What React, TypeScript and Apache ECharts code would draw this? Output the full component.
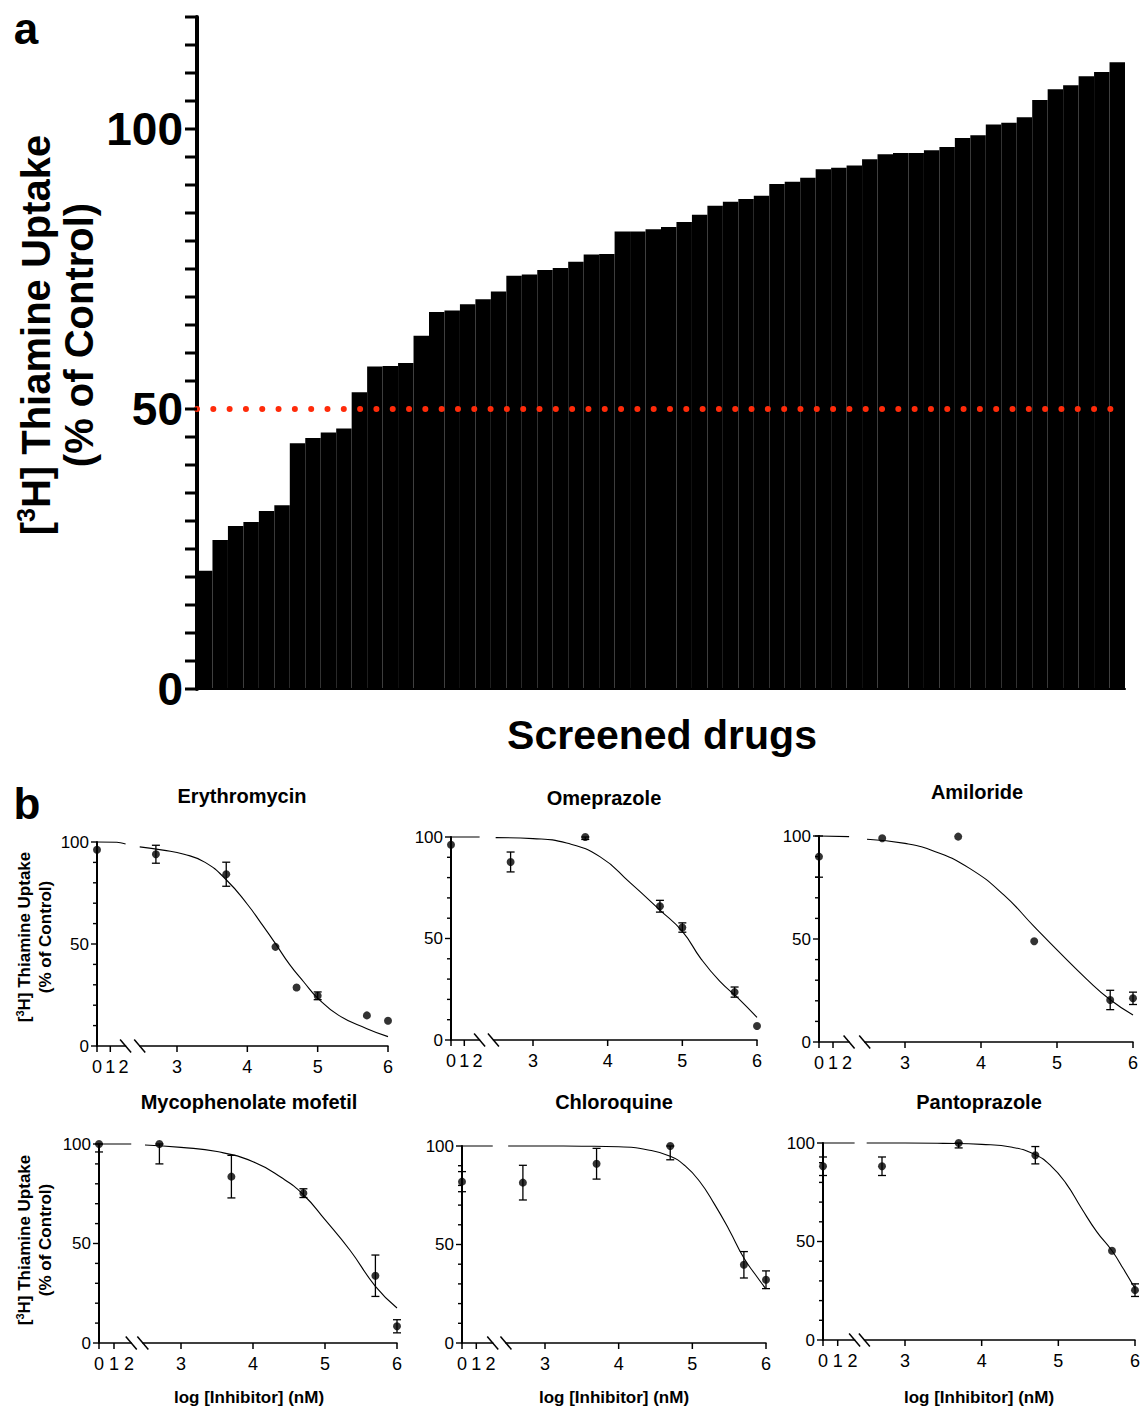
import React, { useEffect, useRef } from "react";
import * as echarts from "echarts";

const FONT = '"Liberation Sans", Arial, Helvetica, sans-serif';
const RED = "#ff2b0a";

// ---------- Panel a ----------
const screenedDrugs = Array.from({ length: 60 }, (_, i) => `Drug ${i + 1}`);
const uptakePercent = [
  21.1, 26.6, 29.1, 29.8, 31.8, 32.8, 43.9, 44.8, 45.8, 46.5,
  53.0, 57.6, 57.7, 58.2, 63.1, 67.3, 67.6, 68.7, 69.6, 71.0,
  73.8, 74.0, 74.8, 75.2, 76.3, 77.6, 77.7, 81.7, 81.7, 82.1,
  82.5, 83.4, 84.7, 86.3, 87.0, 87.5, 88.1, 90.2, 90.6, 91.3,
  92.8, 93.1, 93.5, 94.6, 95.5, 95.7, 95.7, 96.2, 96.8, 98.4,
  98.9, 100.8, 101.1, 102.1, 105.2, 107.1, 107.8, 109.4, 110.2, 111.9,
];
const panelALabels = [0, 50, 100];
const panelATicks = [
  0, 5, 10, 15, 20, 25, 30, 35, 40, 45, 50, 55, 60,
  65, 70, 75, 80, 85, 90, 95, 100, 105, 110, 115, 120,
];
const cutoffLine = 50;

// ---------- Panel b ----------
const leftTicks = [0, 1];
const leftLabels = [0, 1, 2];
const rightTicks = [3, 4, 5, 6];
const yLabelsB = [0, 50, 100];
const yTicksB = [0, 10, 20, 30, 40, 50, 60, 70, 80, 90, 100];

// Erythromycin
const erythroControl = [96.2, 0];
const erythroDose = [2.7, 3.7, 4.4, 4.7, 5.0, 5.7, 6.0];
const erythroUptake = [94.0, 84.2, 48.6, 28.7, 24.6, 15.0, 12.4];
const erythroSem = [4.4, 5.9, 0, 0, 1.9, 0, 0];
const erythroFitLow = [[0, 100], [1.5, 99.9], [2.15, 99.0]];
const erythroFitHigh = [
  [2.47, 97.6], [2.8, 96.0], [3.1, 94.0], [3.4, 90.0], [3.7, 81.5], [4.0, 69.5],
  [4.2, 60.0], [4.4, 50.2], [4.6, 40.0], [4.8, 31.5], [5.0, 23.5], [5.3, 15.0],
  [5.7, 8.5], [6.0, 4.6],
];

// Omeprazole
const omeControl = [96.2, 0];
const omeDose = [2.7, 3.7, 4.7, 5.0, 5.7, 6.0];
const omeUptake = [87.7, 100, 65.9, 55.4, 23.6, 6.9];
const omeSem = [4.9, 1.2, 2.9, 2.3, 2.5, 0];
const omeFitLow = [[0, 100], [2.15, 100]];
const omeFitHigh = [
  [2.5, 99.7], [3.0, 99.2], [3.45, 97.0], [3.9, 90.2], [4.3, 77.5], [4.7, 64.0],
  [5.0, 53.5], [5.25, 40.0], [5.5, 29.0], [5.75, 20.5], [6.0, 11.1],
];

// Amiloride
const amiControl = [90.0, 10.0];
const amiDose = [2.7, 3.7, 4.7, 5.7, 6.0];
const amiUptake = [98.9, 99.7, 48.9, 20.4, 21.2];
const amiSem = [0, 0, 0, 4.7, 3.0];
const amiFitLow = [[0, 100], [2.15, 99.7]];
const amiFitHigh = [
  [2.5, 98.4], [3.0, 96.4], [3.4, 92.4], [3.85, 84.3], [4.3, 71.4], [4.7, 56.0],
  [5.0, 44.7], [5.4, 30.2], [5.7, 20.5], [6.0, 13.1],
];

// Mycophenolate mofetil
const mycoControl = [100, 4.0];
const mycoDose = [2.7, 3.7, 4.7, 5.7, 6.0];
const mycoUptake = [100, 83.6, 75.3, 33.8, 8.4];
const mycoSem = [10.0, 10.7, 2.2, 10.4, 3.3];
const mycoFitLow = [[0, 100], [2.15, 100]];
const mycoFitHigh = [
  [2.5, 99.5], [3.0, 98.3], [3.5, 96.2], [4.0, 91.1], [4.4, 83.0], [4.7, 74.5],
  [5.0, 62.0], [5.35, 46.5], [5.7, 28.5], [6.0, 17.6],
];

// Chloroquine
const chloroControl = [81.9, 5.1];
const chloroDose = [2.7, 3.7, 4.7, 5.7, 6.0];
const chloroUptake = [81.4, 91.0, 100, 39.7, 32.1];
const chloroSem = [8.8, 7.8, 7.0, 6.7, 4.5];
const chloroFitLow = [[0, 100], [2.15, 100]];
const chloroFitHigh = [
  [2.5, 100], [3.0, 100], [3.5, 99.9], [4.0, 99.6], [4.4, 98.0], [4.7, 94.8],
  [4.9, 90.0], [5.1, 82.0], [5.3, 70.5], [5.5, 57.4], [5.7, 43.1], [5.85, 35.0], [6.0, 27.4],
];

// Pantoprazole
const pantoControl = [88.2, 4.7];
const pantoDose = [2.7, 3.7, 4.7, 5.7, 6.0];
const pantoUptake = [88.2, 100, 93.8, 45.3, 25.3];
const pantoSem = [4.7, 2.5, 4.4, 0, 3.2];
const pantoFitLow = [[0, 100], [2.15, 100]];
const pantoFitHigh = [
  [2.5, 100], [3.0, 100], [3.5, 99.8], [4.0, 99.3], [4.4, 97.8], [4.7, 94.0],
  [4.9, 88.5], [5.1, 79.5], [5.3, 67.0], [5.5, 55.0], [5.7, 45.3], [5.85, 36.0], [6.0, 26.2],
];

const drugTitles = [
  "Erythromycin", "Omeprazole", "Amiloride",
  "Mycophenolate mofetil", "Chloroquine", "Pantoprazole",
];

const drugs = [
  { control: erythroControl, dose: erythroDose, uptake: erythroUptake, sem: erythroSem, fitLow: erythroFitLow, fitHigh: erythroFitHigh },
  { control: omeControl, dose: omeDose, uptake: omeUptake, sem: omeSem, fitLow: omeFitLow, fitHigh: omeFitHigh },
  { control: amiControl, dose: amiDose, uptake: amiUptake, sem: amiSem, fitLow: amiFitLow, fitHigh: amiFitHigh },
  { control: mycoControl, dose: mycoDose, uptake: mycoUptake, sem: mycoSem, fitLow: mycoFitLow, fitHigh: mycoFitHigh },
  { control: chloroControl, dose: chloroDose, uptake: chloroUptake, sem: chloroSem, fitLow: chloroFitLow, fitHigh: chloroFitHigh },
  { control: pantoControl, dose: pantoDose, uptake: pantoUptake, sem: pantoSem, fitLow: pantoFitLow, fitHigh: pantoFitHigh },
];

// ---------- Layout (page pixels) ----------
const layouts = [
  { yAxisX: 97, y100: 842, y0: 1046, leftUnit: 13.3, x3: 177, x6: 388, titleX: 242, titleY: 796 },
  { yAxisX: 451, y100: 837, y0: 1040, leftUnit: 13.3, x3: 533, x6: 757, titleX: 604, titleY: 798 },
  { yAxisX: 819, y100: 836, y0: 1042, leftUnit: 14, x3: 905, x6: 1133, titleX: 977, titleY: 792 },
  { yAxisX: 99, y100: 1144, y0: 1343, leftUnit: 15, x3: 181, x6: 397, titleX: 249, titleY: 1102 },
  { yAxisX: 462, y100: 1146, y0: 1343, leftUnit: 14.3, x3: 545, x6: 766, titleX: 614, titleY: 1102 },
  { yAxisX: 823, y100: 1143, y0: 1340, leftUnit: 14.7, x3: 905, x6: 1135, titleX: 979, titleY: 1102 },
];
const LEFT_MAX = 2.15;
const RIGHT_MIN = 2.47;
const RIGHT_MAX = 6;
const PAGE_W = 1140;
const PAGE_H = 1409;
const PANEL_A_LEFT = 197;

function errRender(params: any, api: any) {
  const x = api.value(0);
  const y = api.value(1);
  const e = api.value(2);
  if (!e) return null;
  const hi = Math.min(y + e, 100);
  const lo = y - e;
  const pHi = api.coord([x, hi]);
  const pLo = api.coord([x, lo]);
  const w = 4;
  const st = { stroke: "#000", lineWidth: 1.3 };
  return {
    type: "group",
    children: [
      { type: "line", shape: { x1: pHi[0], y1: pHi[1], x2: pLo[0], y2: pLo[1] }, style: st },
      { type: "line", shape: { x1: pHi[0] - w, y1: pHi[1], x2: pHi[0] + w, y2: pHi[1] }, style: st },
      { type: "line", shape: { x1: pLo[0] - w, y1: pLo[1], x2: pLo[0] + w, y2: pLo[1] }, style: st },
    ],
  };
}

const tickLine = (x1: number, y1: number, x2: number, y2: number, w: number) => ({
  type: "line",
  silent: true,
  shape: { x1, y1, x2, y2 },
  style: { stroke: "#000", lineWidth: w },
  z: 10,
});

type ChartSpec = {
  left: number; top: number; width: number; height: number; option: any;
  ticks?: (chart: any) => any[];
};

function panelASpec(): ChartSpec {
  const option = {
    animation: false,
    grid: [{ left: PANEL_A_LEFT, top: 17, width: 928, height: 672, outerBoundsMode: "none" }],
    xAxis: [{
      type: "category",
      gridIndex: 0,
      data: screenedDrugs,
      axisLine: { show: true, lineStyle: { color: "#000", width: 2 } },
      axisTick: { show: false },
      axisLabel: { show: false },
    }],
    yAxis: [{
      type: "value",
      gridIndex: 0,
      min: 0,
      max: 120,
      interval: 5,
      splitLine: { show: false },
      axisLine: { show: true, lineStyle: { color: "#000", width: 4 } },
      axisTick: { show: false },
      axisLabel: {
        fontFamily: FONT,
        fontSize: 46,
        fontWeight: "bold",
        color: "#000",
        margin: 14,
        formatter: (v: number) => (panelALabels.includes(v) ? String(v) : ""),
      },
    }],
    series: [
      {
        type: "bar",
        xAxisIndex: 0,
        yAxisIndex: 0,
        data: uptakePercent,
        barCategoryGap: "0%",
        itemStyle: { color: "#000" },
        markLine: {
          symbol: ["none", "none"],
          label: { show: false },
          lineStyle: { color: RED, width: 6, type: [0.01, 16.3], cap: "round", opacity: 1 },
          data: [{ yAxis: cutoffLine }],
        },
      },
    ],
  };
  const ticks = (chart: any) =>
    panelATicks.map((v) => {
      const y = chart.convertToPixel({ yAxisIndex: 0 }, v);
      return tickLine(PANEL_A_LEFT - 12, y, PANEL_A_LEFT, y, 3);
    });
  return { left: 0, top: 0, width: PAGE_W, height: 770, option, ticks };
}

function subplotSpec(i: number): ChartSpec {
  const d = drugs[i];
  const L = layouts[i];
  const ox = L.yAxisX - 45;
  const oy = L.y100 - 15;
  const width = Math.min(PAGE_W, L.x6 + 10) - ox;
  const height = L.y0 + 40 - oy;
  const unit = (L.x6 - L.x3) / 3;
  const h = L.y0 - L.y100;
  const leftW = L.leftUnit * LEFT_MAX;
  const rightLeft = L.x3 - (3 - RIGHT_MIN) * unit;
  const gx = L.yAxisX - ox;
  const gBottom = L.y0 - oy;

  const xLab = { fontFamily: FONT, fontSize: 18, color: "#000", margin: 12 };
  const xLine = { show: true, onZero: false, lineStyle: { color: "#000", width: 1.5 } };
  const lineStyle = { color: "#000", width: 1.1 };

  const option = {
    animation: false,
    grid: [
      { left: gx, top: L.y100 - oy, width: leftW, height: h, outerBoundsMode: "none" },
      { left: rightLeft - ox, top: L.y100 - oy, width: (RIGHT_MAX - RIGHT_MIN) * unit, height: h, outerBoundsMode: "none" },
    ],
    xAxis: [
      {
        type: "value", gridIndex: 0, min: 0, max: LEFT_MAX, interval: 1,
        splitLine: { show: false }, axisLine: xLine,
        axisTick: { show: false },
        axisLabel: { ...xLab, customValues: leftLabels },
      },
      {
        type: "value", gridIndex: 1, min: RIGHT_MIN, max: RIGHT_MAX,
        splitLine: { show: false }, axisLine: xLine,
        axisTick: { show: false },
        axisLabel: { ...xLab, customValues: rightTicks },
      },
    ],
    yAxis: [
      {
        type: "value", gridIndex: 0, min: 0, max: 100, interval: 50,
        splitLine: { show: false },
        axisLine: { show: true, lineStyle: { color: "#000", width: 2 } },
        axisTick: { show: false },
        axisLabel: { fontFamily: FONT, fontSize: 17, color: "#000", margin: 8, customValues: yLabelsB },
      },
      { type: "value", gridIndex: 1, min: 0, max: 100, show: false },
    ],
    series: [
      { type: "line", xAxisIndex: 0, yAxisIndex: 0, data: d.fitLow, showSymbol: false, symbol: "none", smooth: 0.3, lineStyle, clip: false },
      { type: "line", xAxisIndex: 1, yAxisIndex: 1, data: d.fitHigh, showSymbol: false, symbol: "none", smooth: 0.5, lineStyle, clip: false },
      { type: "scatter", xAxisIndex: 0, yAxisIndex: 0, data: [[0, d.control[0]]], symbolSize: 8, itemStyle: { color: "#000" }, clip: false, z: 4 },
      { type: "scatter", xAxisIndex: 1, yAxisIndex: 1, data: d.dose.map((x, k) => [x, d.uptake[k]]), symbolSize: 8, itemStyle: { color: "#000" }, clip: false, z: 4 },
      {
        type: "custom", coordinateSystem: "cartesian2d", xAxisIndex: 0, yAxisIndex: 0,
        data: [[0, d.control[0], d.control[1]]], encode: { x: 0, y: 1 }, renderItem: errRender, clip: false, z: 3,
      },
      {
        type: "custom", coordinateSystem: "cartesian2d", xAxisIndex: 1, yAxisIndex: 1,
        data: d.dose.map((x, k) => [x, d.uptake[k], d.sem[k]]), encode: { x: 0, y: 1 }, renderItem: errRender, clip: false, z: 3,
      },
    ],
  };

  const ticks = (chart: any) => {
    const out: any[] = [];
    yTicksB.forEach((v) => {
      const y = chart.convertToPixel({ yAxisIndex: 0 }, v);
      const len = yLabelsB.includes(v) ? 6 : 4;
      out.push(tickLine(gx - len, y, gx, y, 1.4));
    });
    leftTicks.forEach((v) => {
      const x = chart.convertToPixel({ xAxisIndex: 0 }, v);
      out.push(tickLine(x, gBottom, x, gBottom + 6, 1.5));
    });
    rightTicks.forEach((v) => {
      const x = chart.convertToPixel({ xAxisIndex: 1 }, v);
      out.push(tickLine(x, gBottom, x, gBottom + 6, 1.5));
    });
    return out;
  };
  return { left: ox, top: oy, width, height, option, ticks };
}

function overlaySpec(): ChartSpec {
  const graphic: any[] = [];
  const txt = (x: number, y: number, text: string, size: number, bold = true, rotation = 0) => ({
    type: "text", x, y, rotation, silent: true,
    style: { text, fontFamily: FONT, fontSize: size, fontWeight: bold ? "bold" : "normal", fill: "#000", align: "center", verticalAlign: "middle" },
  });

  layouts.forEach((L, i) => {
    const unit = (L.x6 - L.x3) / 3;
    const leftEnd = L.yAxisX + L.leftUnit * LEFT_MAX;
    const rightStart = L.x3 - (3 - RIGHT_MIN) * unit;
    [leftEnd, rightStart].forEach((cx) => {
      graphic.push({
        type: "line", silent: true,
        shape: { x1: cx - 5.5, y1: L.y0 - 6.5, x2: cx + 5.5, y2: L.y0 + 6.5 },
        style: { stroke: "#000", lineWidth: 1.5 },
      });
    });
    graphic.push(txt(L.titleX, L.titleY, drugTitles[i], 20));
    if (i >= 3) graphic.push(txt(L.titleX, 1397, "log [Inhibitor] (nM)", 17));
  });

  const richB = {
    n: { fontFamily: FONT, fontSize: 17, fontWeight: "bold", fill: "#000", lineHeight: 20 },
    s: { fontFamily: FONT, fontSize: 11, fontWeight: "bold", fill: "#000", lineHeight: 11, verticalAlign: "top" },
  };
  [937, 1240].forEach((cy) => {
    graphic.push({
      type: "text", x: 24, y: cy, rotation: Math.PI / 2, silent: true,
      style: { text: "{n|[}{s|3}{n|H] Thiamine Uptake}", rich: richB, align: "center", verticalAlign: "middle" },
    });
    graphic.push(txt(45, cy, "(% of Control)", 17, true, Math.PI / 2));
  });

  const richA = {
    n: { fontFamily: FONT, fontSize: 40, fontWeight: "bold", fill: "#000", lineHeight: 46 },
    s: { fontFamily: FONT, fontSize: 25, fontWeight: "bold", fill: "#000", lineHeight: 25, verticalAlign: "top" },
  };
  graphic.push({
    type: "text", x: 36, y: 335, rotation: Math.PI / 2, silent: true,
    style: { text: "{n|[}{s|3}{n|H] Thiamine Uptake}", rich: richA, align: "center", verticalAlign: "middle" },
  });
  graphic.push(txt(79, 335, "(% of Control)", 40, true, Math.PI / 2));
  graphic.push(txt(662, 735, "Screened drugs", 41));
  graphic.push(txt(26, 28, "a", 44));
  graphic.push(txt(27, 803, "b", 44));

  return { left: 0, top: 0, width: PAGE_W, height: PAGE_H, option: { animation: false, graphic } };
}

function EChart({ spec }: { spec: ChartSpec }) {
  const ref = useRef<HTMLDivElement>(null);
  useEffect(() => {
    if (!ref.current) return;
    const chart = echarts.init(ref.current, null, { renderer: "svg" });
    chart.setOption(spec.option);
    if (spec.ticks) {
      try {
        const g = spec.ticks(chart).filter((el: any) =>
          [el.shape.x1, el.shape.y1, el.shape.x2, el.shape.y2].every((n: number) => Number.isFinite(n))
        );
        chart.setOption({ graphic: g });
      } catch (e) {
        // ticks are decorative; keep the chart if they fail
      }
    }
    return () => chart.dispose();
  }, []);
  return (
    <div
      ref={ref}
      style={{ position: "absolute", left: spec.left, top: spec.top, width: spec.width, height: spec.height }}
    />
  );
}

const specs: ChartSpec[] = [panelASpec(), ...drugs.map((_, i) => subplotSpec(i)), overlaySpec()];

export default function App() {
  useEffect(() => {
    document.body.style.margin = "0";
  }, []);
  return (
    <div style={{ position: "relative", width: PAGE_W, height: PAGE_H, background: "#fff", overflow: "hidden" }}>
      {specs.map((s, i) => <EChart key={i} spec={s} />)}
    </div>
  );
}
